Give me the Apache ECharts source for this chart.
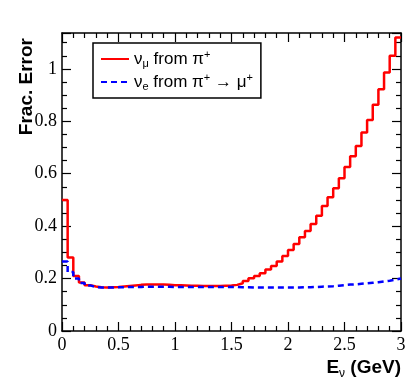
<!DOCTYPE html>
<html>
<head>
<meta charset="utf-8">
<script src="https://cdn.jsdelivr.net/npm/echarts@6/dist/echarts.min.js"></script>
<style>
html, body { margin: 0; padding: 0; background: #fff; }
#chart { width: 417px; height: 387px; }
</style>
</head>
<body>
<div id="chart"></div>
<script>
// histogram bins of 0.05 GeV from 0 to 3 GeV
var binWidth = 0.05;
var eMax = 3;

var numuErr = [
	0.50, 0.28, 0.21, 0.185, 0.175, 0.170, 0.167, 0.166, 0.167, 0.168,
	0.170, 0.172, 0.174, 0.176, 0.177, 0.177, 0.177, 0.177, 0.176, 0.175,
	0.175, 0.174, 0.173, 0.173, 0.172, 0.172, 0.172, 0.172, 0.173, 0.174,
	0.176, 0.182, 0.191, 0.201, 0.210, 0.220, 0.235, 0.248, 0.265, 0.286,
	0.309, 0.332, 0.358, 0.382, 0.408, 0.440, 0.477, 0.510, 0.545, 0.583,
	0.626, 0.667, 0.706, 0.757, 0.805, 0.863, 0.922, 0.986, 1.050, 1.120
];

var nueErr = [
	0.265, 0.225, 0.200, 0.183, 0.174, 0.168, 0.166, 0.166, 0.166, 0.167,
	0.167, 0.168, 0.168, 0.168, 0.169, 0.169, 0.169, 0.169, 0.169, 0.168,
	0.168, 0.168, 0.168, 0.168, 0.168, 0.168, 0.168, 0.168, 0.168, 0.168,
	0.168, 0.167, 0.167, 0.166, 0.166, 0.166, 0.166, 0.166, 0.166, 0.166,
	0.166, 0.166, 0.167, 0.167, 0.168, 0.169, 0.170, 0.171, 0.173, 0.175,
	0.177, 0.178, 0.180, 0.182, 0.184, 0.186, 0.189, 0.192, 0.196, 0.200
];

var yTicks = [0, 0.2, 0.4, 0.6, 0.8, 1];

function toSteps(vals) {
	var pts = [];
	for (var i = 0; i < vals.length; i++) {
		pts.push([+(i * binWidth).toFixed(2), vals[i]]);
	}
	pts.push([eMax, vals[vals.length - 1]]);
	return pts;
}

var sans = '"Liberation Sans", Arial, sans-serif';
var serif = '"Liberation Serif", "Times New Roman", serif';

function frameAxis(pos, labels, extra) {
	var a = {
		type: 'value',
		position: pos,
		axisLine: { show: true, onZero: false, lineStyle: { color: '#000', width: 1.5 } },
		axisTick: { show: true, inside: true, length: 9, lineStyle: { color: '#000', width: 1.2 } },
		minorTick: { show: true, length: 5, lineStyle: { color: '#000', width: 1.2 } },
		splitLine: { show: false },
		axisLabel: { show: labels, color: '#000', fontFamily: serif, fontSize: 18 }
	};
	for (var k in extra) a[k] = extra[k];
	return a;
}

var legendNames = {
	numu: '{t|ν}{sub|μ}{t| from π}{sup|+}',
	nue: '{t|ν}{sub|e}{t| from π}{sup|+}{t| → μ}{sup|+}'
};

var option = {
	animation: false,
	backgroundColor: '#fff',
	grid: { left: 62, right: 16, top: 33, bottom: 56 },
	legend: {
		orient: 'vertical',
		left: 93,
		top: 43,
		padding: [6, 8, 6, 7],
		itemGap: 3,
		itemWidth: 28,
		itemHeight: 12,
		borderColor: '#000',
		borderWidth: 1.5,
		itemStyle: { opacity: 0 },
		data: ['numu', 'nue'],
		formatter: function(name) { return legendNames[name]; },
		textStyle: {
			color: '#000',
			rich: {
				t: { fontFamily: sans, fontSize: 17, lineHeight: 20, color: '#000' },
				sub: { fontFamily: sans, fontSize: 11, lineHeight: 9, verticalAlign: 'bottom', color: '#000' },
				sup: { fontFamily: sans, fontSize: 11, lineHeight: 11, verticalAlign: 'top', color: '#000' }
			}
		}
	},
	xAxis: [
		frameAxis('bottom', true, { min: 0, max: eMax, interval: 0.5, minorTick: { show: true, splitNumber: 5, length: 5, lineStyle: { color: '#000', width: 1.2 } }, axisLabel: { color: '#000', fontFamily: serif, fontSize: 18, margin: 5 } }),
		frameAxis('top', false, { min: 0, max: eMax, interval: 0.5, minorTick: { show: true, splitNumber: 5, length: 5, lineStyle: { color: '#000', width: 1.2 } } })
	],
	yAxis: [
		frameAxis('left', true, {
			min: 0, max: 1.137, interval: 0.2,
			minorTick: { show: true, splitNumber: 4, length: 5, lineStyle: { color: '#000', width: 1.2 } },
			axisLabel: {
				color: '#000', fontFamily: serif, fontSize: 18, margin: 5,
				formatter: function(v) {
					for (var i = 0; i < yTicks.length; i++) {
						if (Math.abs(v - yTicks[i]) < 1e-6) return String(yTicks[i]);
					}
					return '';
				}
			}
		}),
		frameAxis('right', false, {
			min: 0, max: 1.137, interval: 0.2,
			minorTick: { show: true, splitNumber: 4, length: 5, lineStyle: { color: '#000', width: 1.2 } }
		})
	],
	series: [{
		name: 'numu',
		type: 'line',
		step: 'end',
		symbol: 'none',
		silent: true,
		data: toSteps(numuErr),
		lineStyle: { color: '#ff0000', width: 2.5 },
		itemStyle: { color: '#ff0000' },
		z: 3
	}, {
		name: 'nue',
		type: 'line',
		step: 'end',
		symbol: 'none',
		silent: true,
		data: toSteps(nueErr),
		lineStyle: { color: '#0000ff', width: 2.5, type: [6, 4] },
		itemStyle: { color: '#0000ff' },
		z: 4
	}],
	graphic: [{
		type: 'text',
		x: 27,
		y: 38,
		rotation: Math.PI / 2,
		style: {
			text: 'Frac. Error',
			font: 'bold 19px ' + sans,
			fill: '#000',
			align: 'right',
			verticalAlign: 'middle'
		}
	}, {
		type: 'text',
		x: 401,
		y: 368,
		style: {
			text: '{e|E}{s|ν}{e| (GeV)}',
			align: 'right',
			verticalAlign: 'middle',
			fill: '#000',
			rich: {
				e: { fontFamily: sans, fontWeight: 'bold', fontSize: 19, lineHeight: 24, fill: '#000' },
				s: { fontFamily: sans, fontSize: 12, lineHeight: 12, verticalAlign: 'bottom', fill: '#000' }
			}
		}
	}]
};

var my = echarts.init(document.getElementById('chart'));
my.setOption(option);
</script>
</body>
</html>
